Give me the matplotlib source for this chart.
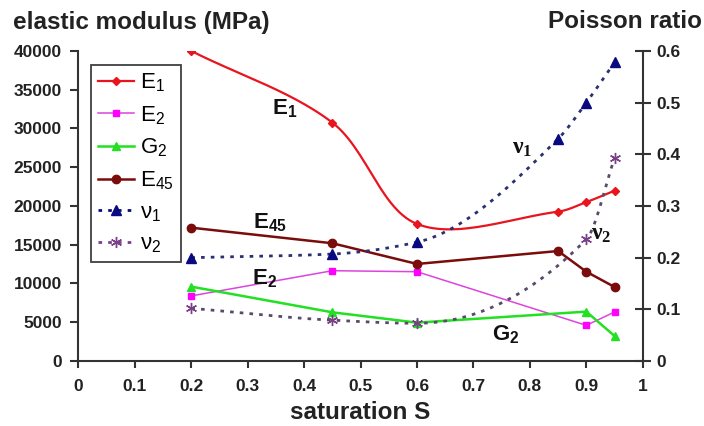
import matplotlib
matplotlib.use('Agg')
import matplotlib.pyplot as plt
import numpy as np

plt.rcParams['font.family'] = ['Liberation Sans', 'DejaVu Sans']
plt.rcParams['mathtext.default'] = 'regular'

# saturation values for each series
s_all = [0.2, 0.45, 0.6, 0.85, 0.9, 0.95]
s_no85 = [0.2, 0.45, 0.6, 0.9, 0.95]

# elastic moduli (MPa)
E1 = [40000, 30750, 17680, 19270, 20500, 21970]
E2 = [8400, 11650, 11520, 4600, 6320]
G2 = [9590, 6280, 4950, 6370, 3230]
E45 = [17200, 15190, 12520, 14190, 11520, 9550]

# Poisson ratios
nu1 = [0.2, 0.207, 0.23, 0.43, 0.5, 0.578]
nu2 = [0.102, 0.079, 0.073, 0.2355, 0.393]


def bezier_smooth(x, y, yspan, n=30):
    # curve through the points, tangents weighted by chord length on screen
    p = np.column_stack([x, y]).astype(float)
    q = p * [564.0, 310.0 / yspan]
    d = np.hypot(*np.diff(q, axis=0).T)
    out = [p[0]]
    t = np.linspace(0, 1, n)[1:, None]
    for i in range(len(p) - 1):
        p1, p2 = p[i], p[i + 1]
        if i > 0:
            c1 = p1 + (p2 - p[i - 1]) * d[i] / (d[i - 1] + d[i]) / 3
        else:
            c1 = p1 + (p2 - p1) / 3
        if i + 2 < len(p):
            c2 = p2 - (p[i + 2] - p1) * d[i] / (d[i] + d[i + 1]) / 3
        else:
            c2 = p2 - (p2 - p1) / 3
        seg = (1 - t)**3 * p1 + 3 * (1 - t)**2 * t * c1 + 3 * (1 - t) * t**2 * c2 + t**3 * p2
        out.extend(seg)
    out = np.array(out)
    return out[:, 0], out[:, 1]


def pchip(x, y, n=40):
    # monotone cubic through the points
    x = np.asarray(x, float)
    y = np.asarray(y, float)
    h = np.diff(x)
    d = np.diff(y) / h
    m = np.zeros_like(y)
    m[0], m[-1] = d[0], d[-1]
    for k in range(1, len(y) - 1):
        if d[k - 1] * d[k] > 0:
            w1 = 2 * h[k] + h[k - 1]
            w2 = h[k] + 2 * h[k - 1]
            m[k] = (w1 + w2) / (w1 / d[k - 1] + w2 / d[k])
    xs, ys = [x[0]], [y[0]]
    for k in range(len(h)):
        t = np.linspace(0, 1, n)[1:]
        h00 = 2 * t**3 - 3 * t**2 + 1
        h10 = t**3 - 2 * t**2 + t
        h01 = -2 * t**3 + 3 * t**2
        h11 = t**3 - t**2
        xs.extend(x[k] + t * h[k])
        ys.extend(h00 * y[k] + h10 * h[k] * m[k] + h01 * y[k + 1] + h11 * h[k] * m[k + 1])
    return np.array(xs), np.array(ys)


fig = plt.figure(figsize=(7.04, 4.26), dpi=100)
ax = fig.add_axes([0.1115, 0.1526, 0.8015, 0.7277])
ax2 = ax.twinx()

red = '#e8141e'
mag = '#ff00ff'
grn = '#22e022'
brn = '#7a0c0c'
navy = '#0a0a80'
purp = '#7a3f86'

handles = []
xs, ys = bezier_smooth(s_all, E1, 40000)
ax.plot(xs, ys, color=red, lw=1.6)
ax.plot(s_all, E1, 'D', color=red, ms=4.5)
handles.append(ax.plot([], [], '-D', color=red, lw=1.6, ms=4.5, label='E$_1$')[0])

ax.plot(s_no85, E2, '-', color='#dd44dd', lw=1.1)
ax.plot(s_no85, E2, 's', color=mag, ms=5)
handles.append(ax.plot([], [], '-s', color='#dd44dd', mfc=mag, mec=mag, lw=1.1, ms=5, label='E$_2$')[0])

ax.plot(s_no85, G2, '-^', color=grn, lw=1.8, ms=6)
handles.append(ax.plot([], [], '-^', color=grn, lw=1.8, ms=6, label='G$_2$')[0])

ax.plot(s_all, E45, '-o', color=brn, lw=1.8, ms=6)
handles.append(ax.plot([], [], '-o', color=brn, lw=1.8, ms=6, label='E$_{45}$')[0])

dots = (0, (1.3, 2.2))
xs, ys = pchip(s_all, nu1)
ax2.plot(xs, ys, color='#2a3070', lw=2, ls=dots)
ax2.plot(s_all, nu1, '^', color=navy, ms=7)
handles.append(ax2.plot([], [], '^', color=navy, ms=7, ls=dots, lw=2, label='ν$_1$')[0])

xs, ys = pchip(s_no85, nu2)
ax2.plot(xs, ys, color='#5a4a6a', lw=2, ls=dots)
ax2.plot(s_no85, nu2, marker=(6, 2, 0), color=purp, ms=8, ls='none', mew=1)
handles.append(ax2.plot([], [], marker=(6, 2, 0), color=purp, ms=8, mew=1, ls=dots, lw=2, label='ν$_2$')[0])

# axes
ax.set_xlim(0, 1)
ax.set_ylim(0, 40000)
ax2.set_ylim(0, 0.6)
ax.set_xticks(np.arange(0, 1.01, 0.1))
ax.set_xticklabels(['0', '0.1', '0.2', '0.3', '0.4', '0.5', '0.6', '0.7', '0.8', '0.9', '1'])
ax.set_yticks(np.arange(0, 40001, 5000))
ax2.set_yticks(np.arange(0, 0.61, 0.1))
ax2.set_yticklabels(['0', '0.1', '0.2', '0.3', '0.4', '0.5', '0.6'])

spine_c = '#333333'
for a in (ax, ax2):
    a.spines['top'].set_visible(False)
    for sp in a.spines.values():
        sp.set_linewidth(1.5)
        sp.set_color(spine_c)
ax.spines['right'].set_visible(False)
ax2.spines['left'].set_visible(False)
ax2.spines['bottom'].set_visible(False)

ax.tick_params(axis='both', colors=spine_c, width=1.5, labelcolor='#222222', labelsize=12.5)
ax.tick_params(axis='x', direction='out', length=5, pad=8)
ax.tick_params(axis='y', direction='out', length=6, pad=6)
ax2.tick_params(axis='y', direction='inout', length=12, width=1.5, colors=spine_c,
                labelcolor='#222222', labelsize=12.5, pad=4)
for lab in ax.get_xticklabels() + ax.get_yticklabels() + ax2.get_yticklabels():
    lab.set_fontweight('bold')

# titles
fig.text(0.018, 0.932, 'elastic modulus (MPa)', fontsize=17.5, fontweight='bold', color='#222222')
fig.text(0.997, 0.935, 'Poisson ratio', fontsize=17.5, fontweight='bold', color='#222222', ha='right')
fig.text(0.512, 0.0165, 'saturation S', fontsize=17.5, fontweight='bold', color='#222222', ha='center')

# series labels
lab_kw = dict(fontsize=16, fontweight='bold', color='#111111', ha='center', va='center')
ax.text(0.366, 32600, 'E$_1$', **lab_kw)
ax.text(0.339, 17900, 'E$_{45}$', **lab_kw)
ax.text(0.33, 10600, 'E$_2$', **lab_kw)
ax.text(0.757, 3350, 'G$_2$', **lab_kw)
nu_kw = dict(fontsize=17, fontweight='bold', family='Liberation Serif', color='#111111',
             ha='center', va='center')
ax2.text(0.787, 0.412, 'ν$_1$', **nu_kw)
ax2.text(0.927, 0.244, 'ν$_2$', **nu_kw)

leg = ax2.legend(handles=handles, loc='upper left', bbox_to_anchor=(0.023, 0.955),
                 borderaxespad=0, fontsize=16, frameon=True, fancybox=False,
                 edgecolor='#111111', handlelength=1.6, handletextpad=0.3,
                 labelspacing=0.45, borderpad=0.3, numpoints=1)
leg.get_frame().set_linewidth(1.3)

fig.savefig('out.png', dpi=100)
